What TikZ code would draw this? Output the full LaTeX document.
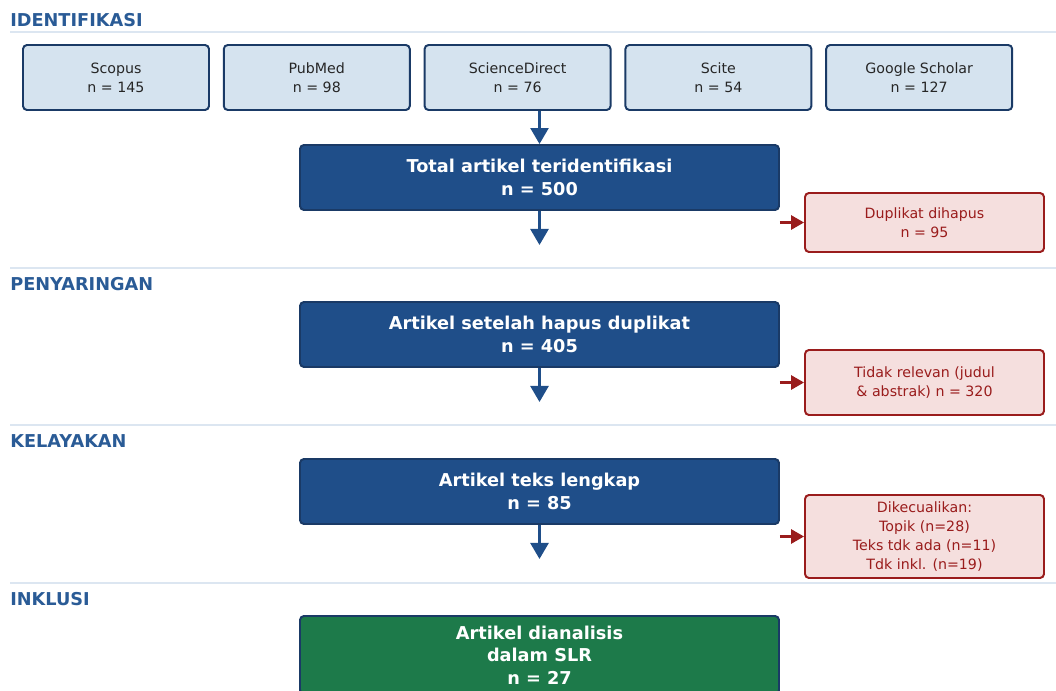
\documentclass[tikz,border=0pt]{standalone}
\usepackage{fontspec}
\setmainfont{DejaVu Sans}
\usetikzlibrary{arrows.meta}
\definecolor{srcfill}{HTML}{D5E3EF}
\definecolor{navy}{HTML}{1A3A66}
\definecolor{mainblue}{HTML}{1F4E89}
\definecolor{headblue}{HTML}{2A5B96}
\definecolor{exfill}{HTML}{F5DFDE}
\definecolor{exred}{HTML}{9A1C1C}
\definecolor{finalgreen}{HTML}{1D7A4A}
\definecolor{rulecol}{HTML}{DCE6F1}
\tikzset{
  srcbox/.style={draw=navy, fill=srcfill, line width=1.4pt, rounded corners=0.1cm,
    minimum width=4.65cm, minimum height=1.625cm, align=center, text=black!85,
    font=\fontsize{10.1}{13.7}\selectfont},
  mainbox/.style={draw=navy, fill=mainblue, line width=1.4pt, rounded corners=0.1cm,
    minimum width=11.975cm, minimum height=1.625cm, align=center, text=white,
    font=\bfseries\fontsize{12.6}{16}\selectfont},
  exbox/.style={draw=exred, fill=exfill, line width=1.4pt, rounded corners=0.1cm,
    minimum width=5.975cm, align=center, text=exred,
    font=\fontsize{10.1}{13.7}\selectfont},
  phase/.style={anchor=base west, inner sep=0pt, text=headblue,
    font=\bfseries\fontsize{12.6}{15}\selectfont},
  phaserule/.style={draw=rulecol, line width=1pt},
  downarr/.style={draw=mainblue, line width=1.8pt, -{Triangle[length=0.4cm,width=0.45cm]}},
  exarr/.style={draw=exred, line width=1.6pt, -{Triangle[length=0.32cm,width=0.35cm]}}
}
\begin{document}
\begin{tikzpicture}
			%%%%% START %%%%%
			\useasboundingbox (0, 0) rectangle (26.4, 17.25);
			
			\node[phase] (hIdent) at (0.25, 16.58) {IDENTIFIKASI};
			\draw[phaserule] (0.25, 16.45) -- (26.4, 16.45);
			\node[phase] (hSaring) at (0.25, 9.98) {PENYARINGAN};
			\draw[phaserule] (0.25, 10.55) -- (26.4, 10.55);
			\node[phase] (hLayak) at (0.25, 6.06) {KELAYAKAN};
			\draw[phaserule] (0.25, 6.625) -- (26.4, 6.625);
			\node[phase] (hInklusi) at (0.25, 2.11) {INKLUSI};
			\draw[phaserule] (0.25, 2.675) -- (26.4, 2.675);
			
			\foreach \x/\src/\n [count=\i] in {2.9/Scopus/145, 7.92/PubMed/98, 12.94/ScienceDirect/76, 17.96/Scite/54, 22.98/Google Scholar/127}
			  \node[srcbox] (src\i) at (\x, 15.3125) {\src\\n = \n};
			
			\node[mainbox] (total) at (13.4875, 12.8125) {Total artikel teridentifikasi\\n = 500};
			\node[mainbox] (dedup) at (13.4875, 8.8875) {Artikel setelah hapus duplikat\\n = 405};
			\node[mainbox] (fulltext) at (13.4875, 4.9625) {Artikel teks lengkap\\n = 85};
			\node[mainbox, fill=finalgreen, minimum height=1.95cm] (final) at (13.4875, 0.875) {Artikel dianalisis\\dalam SLR\\n = 27};
			
			\node[exbox, minimum height=1.475cm] (dup) at (23.1125, 11.6875) {Duplikat dihapus\\n = 95};
			\node[exbox, minimum height=1.625cm] (irrel) at (23.1125, 7.6875) {Tidak relevan (judul\\\& abstrak) n = 320};
			\node[exbox, minimum height=2.075cm] (excl) at (23.1125, 3.8375) {Dikecualikan:\\Topik (n=28)\\Teks tdk ada (n=11)\\Tdk inkl. (n=19)};
			
			\coordinate (d1) at ([yshift=-0.85cm]total.south);
			\coordinate (d2) at ([yshift=-0.85cm]dedup.south);
			\coordinate (d3) at ([yshift=-0.85cm]fulltext.south);
			
			\draw[downarr] (total.north |- src3.south) -- (total.north);
			\draw[downarr] (total.south) -- (d1);
			\draw[downarr] (dedup.south) -- (d2);
			\draw[downarr] (fulltext.south) -- (d3);
			
			\draw[exarr] (total.east |- dup.west) -- (dup.west);
			\draw[exarr] (dedup.east |- irrel.west) -- (irrel.west);
			\draw[exarr] (fulltext.east |- excl.west) -- (excl.west);
			%%%%% END %%%%%
\end{tikzpicture}
\end{document}
